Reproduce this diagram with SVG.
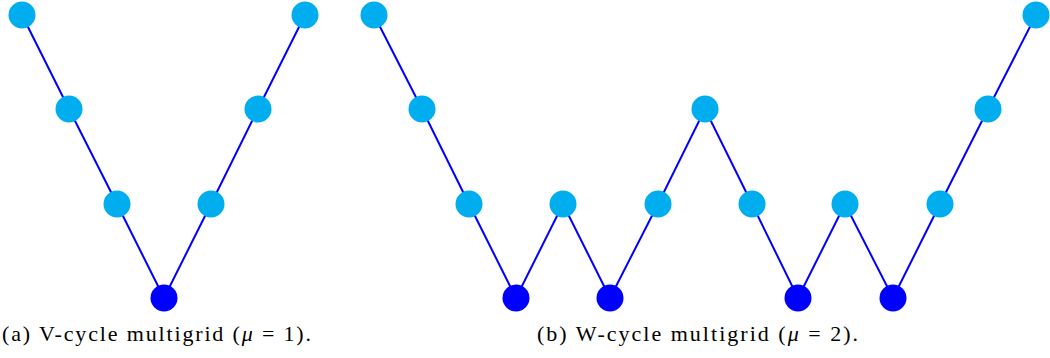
<svg xmlns="http://www.w3.org/2000/svg" width="1050" height="358" viewBox="0 0 1050 358">
<style>
.e{stroke:#0000FF;stroke-width:2;fill:none}
.l{fill:#00AEEF}
.d{fill:#0000FF}
.t{font-family:"Liberation Serif",serif;font-size:22px;font-weight:normal;fill:#000}
.i{font-style:italic}
</style>
<rect width="1050" height="358" fill="#fff"/>
<g id="connectors">
<polyline class="e" points="22,15 69,109 117,204 164,298 211,204 258,109 305,15"/>
<polyline class="e" points="374,15 422,109 469,204 516,298 563,204 610,298 658,204 705,109 752,204 798,298 845,204 893,298 940,204 988,109 1036,15"/>
</g>
<g id="v1"><circle class="l" cx="22" cy="15" r="13.5"/></g>
<g id="v2"><circle class="l" cx="69" cy="109" r="13.5"/></g>
<g id="v3"><circle class="l" cx="117" cy="204" r="13.5"/></g>
<g id="v4"><circle class="d" cx="164" cy="298" r="13.5"/></g>
<g id="v5"><circle class="l" cx="211" cy="204" r="13.5"/></g>
<g id="v6"><circle class="l" cx="258" cy="109" r="13.5"/></g>
<g id="v7"><circle class="l" cx="305" cy="15" r="13.5"/></g>
<g id="w1"><circle class="l" cx="374" cy="15" r="13.5"/></g>
<g id="w2"><circle class="l" cx="422" cy="109" r="13.5"/></g>
<g id="w3"><circle class="l" cx="469" cy="204" r="13.5"/></g>
<g id="w4"><circle class="d" cx="516" cy="298" r="13.5"/></g>
<g id="w5"><circle class="l" cx="563" cy="204" r="13.5"/></g>
<g id="w6"><circle class="d" cx="610" cy="298" r="13.5"/></g>
<g id="w7"><circle class="l" cx="658" cy="204" r="13.5"/></g>
<g id="w8"><circle class="l" cx="705" cy="109" r="13.5"/></g>
<g id="w9"><circle class="l" cx="752" cy="204" r="13.5"/></g>
<g id="w10"><circle class="d" cx="798" cy="298" r="13.5"/></g>
<g id="w11"><circle class="l" cx="845" cy="204" r="13.5"/></g>
<g id="w12"><circle class="d" cx="893" cy="298" r="13.5"/></g>
<g id="w13"><circle class="l" cx="940" cy="204" r="13.5"/></g>
<g id="w14"><circle class="l" cx="988" cy="109" r="13.5"/></g>
<g id="w15"><circle class="l" cx="1036" cy="15" r="13.5"/></g>
<text class="t" x="2" y="341" textLength="309" lengthAdjust="spacing">(a)  V-cycle multigrid (<tspan class="i">μ</tspan> = 1).</text>
<text class="t" x="537" y="341" textLength="321" lengthAdjust="spacing">(b)  W-cycle multigrid (<tspan class="i">μ</tspan> = 2).</text>
</svg>
